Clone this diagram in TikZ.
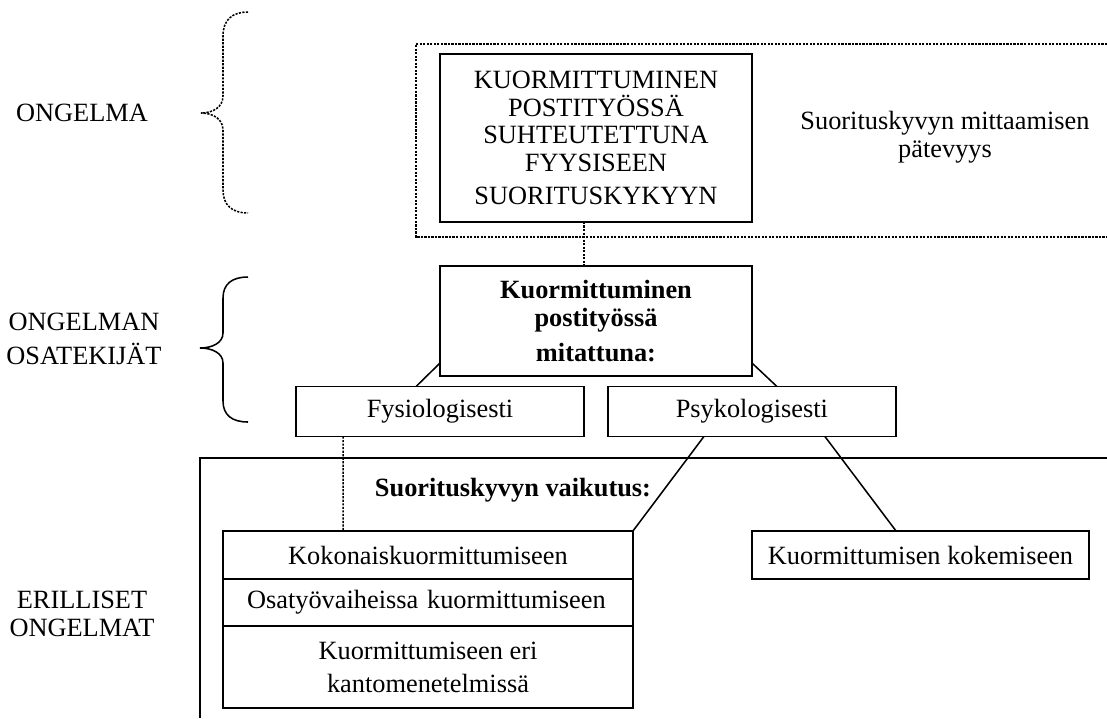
\documentclass[tikz,border=0pt]{standalone}
\usepackage{fontspec}
\setmainfont{Liberation Serif}
\usetikzlibrary{calc,positioning}

\begin{document}
\begin{tikzpicture}[x=0.016cm, y=-0.016cm,
    every node/.style={font=\fontsize{12}{12.5}\selectfont},
    box/.style={draw, line width=0.8pt, align=center, inner sep=0pt, outer sep=0pt},
    link/.style={line width=0.7pt},
    fine/.style={line width=0.7pt, dash pattern=on 1pt off 0.6pt}]
  \useasboundingbox (0,0) rectangle (1107,718);

  % left column
  \node[align=center] (lab1) at (82,113) {ONGELMA};
  \node[align=center] (lab2) at (84,339) {ONGELMAN\\[3pt]OSATEKIJÄT};
  \node[align=center] (lab3) at (82,614) {ERILLISET\\ONGELMAT};

  % braces
  \draw[fine] (248,12) .. controls (232,12) and (223,20) .. (223,36) -- (223,96)
    .. controls (223,107) and (213,113) .. (201,113)
    .. controls (213,113) and (223,119) .. (223,130) -- (223,190)
    .. controls (223,205) and (232,213) .. (248,213);
  \draw[link] (248,277) .. controls (232,277) and (223,284) .. (223,298) -- (223,333)
    .. controls (223,343) and (212,348) .. (200,348)
    .. controls (212,348) and (223,353) .. (223,363) -- (223,401)
    .. controls (223,415) and (232,422) .. (248,422);

  % problem
  \draw[fine] (1107,44) -- (416,44) -- (416,237) -- (1107,237);
  \node[box, minimum width=4.992cm, minimum height=2.688cm] (top) at (596,138)
    {KUORMITTUMINEN\\POSTITYÖSSÄ\\SUHTEUTETTUNA\\FYYSISEEN\\[2.5pt]SUORITUSKYKYYN};
  \node[align=center] (valid) at (945,137) {Suorituskyvyn mittaamisen\\pätevyys};

  % factors
  \node[box, minimum width=4.992cm, minimum height=1.76cm, font=\fontsize{12}{12.5}\selectfont\bfseries] (meas) at (596,321)
    {Kuormittuminen\\postityössä\\[3.5pt]mitattuna:};
  \node[box, minimum width=4.608cm, minimum height=0.8cm] (fys) at (440,411.5) {Fysiologisesti};
  \node[box, minimum width=4.608cm, minimum height=0.8cm, right=0.384cm of fys] (psyk) {Psykologisesti};

  % separate problems
  \draw[link] (1107,458) -- (200,458) -- (200,718);
  \node[font=\fontsize{12}{12.5}\selectfont\bfseries] (effect) at (513,490) {Suorituskyvyn vaikutus:};
  \node[box, minimum width=6.56cm, minimum height=0.768cm] (kok) at (428,555) {Kokonaiskuormittumiseen};
  \node[box, minimum width=6.56cm, minimum height=0.752cm, text width=5.792cm, inner xsep=0.384cm, align=left, below=0pt of kok] (osa) {Osatyövaiheissa kuormittumiseen};
  \node[box, minimum width=6.56cm, minimum height=1.312cm, below=0pt of osa] (kanto) {Kuormittumiseen eri\\[2.5pt]kantomenetelmissä};
  \node[box, minimum width=5.392cm, minimum height=0.768cm] (kokem) at (920.5,555) {Kuormittumisen kokemiseen};

  % connectors
  \draw[fine] ($(top.south west)+(144,0)$) -- ($(meas.north west)+(144,0)$);
  \draw[link] ($(meas.south west)+(0,-13)$) -- ($(fys.north west)+(120,0)$);
  \draw[link] ($(meas.south east)+(0,-13)$) -- ($(psyk.north west)+(169,0)$);
  \draw[fine] ($(fys.south west)+(47,0)$) -- ($(kok.north west)+(120,0)$);
  \draw[link] ($(psyk.south west)+(96,0)$) -- (kok.north east);
  \draw[link] ($(psyk.south west)+(217,0)$) -- ($(kokem.north west)+(144,0)$);
\end{tikzpicture}
\end{document}
